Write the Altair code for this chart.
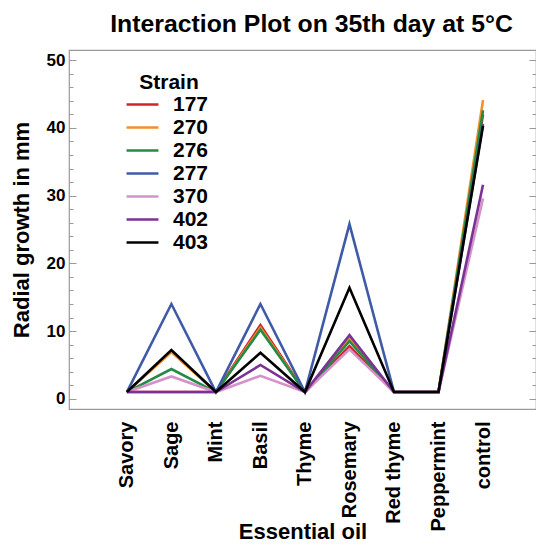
import json
import altair as alt
import pandas as pd

oils = ["Savory", "Sage", "Mint", "Basil", "Thyme", "Rosemary", "Red thyme", "Peppermint", "control"]
strains = ["177", "270", "276", "277", "370", "402", "403"]
colors = ["#d2232a", "#f28e2b", "#238b45", "#3f5aa6", "#d592c8", "#7b3294", "#000000"]

g177 = [1, 1, 1, 10.9, 1, 7.8, 1, 1, 42.0]
g270 = [1, 6.9, 1, 10.5, 1, 8.9, 1, 1, 44.1]
g276 = [1, 4.4, 1, 10.2, 1, 8.5, 1, 1, 42.6]
g277 = [1, 14.0, 1, 14.0, 1, 25.8, 1, 1, 40.6]
g370 = [1, 3.3, 1, 3.4, 1, 7.3, 1, 1, 29.6]
g402 = [1, 1, 1, 5.0, 1, 9.4, 1, 1, 31.6]
g403 = [1, 7.2, 1, 6.8, 1, 16.4, 1, 1, 40.3]

series = [g177, g270, g276, g277, g370, g402, g403]
rows = []
for s, vals in zip(strains, series):
    for i, (o, v) in enumerate(zip(oils, vals)):
        rows.append({"oil": o, "strain": s, "growth": v, "idx": i})
df = pd.DataFrame(rows)

FONT = "Liberation Sans"
TICK = "#999999"

yscale = alt.Scale(domain=[-1.5, 51.5], nice=False, zero=False)
xscale = alt.Scale(domain=[-1.3, 9.19], nice=False, zero=False)
label_expr = json.dumps(oils) + "[datum.value]"

base = alt.Chart(df)

lines = base.mark_line(strokeWidth=2.6).encode(
    x=alt.X("idx:Q", scale=xscale,
            axis=alt.Axis(title="Essential oil", values=list(range(len(oils))),
                          labelExpr=label_expr, labelAngle=270, labelAlign="right",
                          labelBaseline="middle", ticks=False, domain=False, grid=False,
                          labelPadding=12, labelFontSize=20, labelFont=FONT,
                          labelFontWeight="bold", labelColor="black", labelOverlap=False,
                          titleFontSize=22, titleFont=FONT, titleFontWeight="bold",
                          titleColor="black", titleY=129, titleBaseline="alphabetic",
                          orient="bottom")),
    y=alt.Y("growth:Q", scale=yscale,
            axis=alt.Axis(title="Radial growth in mm", values=[0, 10, 20, 30, 40, 50],
                          ticks=False, domain=False, grid=False, labelPadding=4,
                          labelFontSize=17, labelFont=FONT, labelFontWeight="bold",
                          labelColor="black", titleFontSize=22, titleFont=FONT,
                          titleFontWeight="bold", titleColor="black", titleAngle=270,
                          titleX=-41, titleY=179.5, titleBaseline="alphabetic",
                          titleAlign="center", orient="left")),
    color=alt.Color("strain:N", scale=alt.Scale(domain=strains, range=colors),
                    legend=alt.Legend(title="Strain", orient="none", legendX=61, legendY=22,
                                      titleAnchor="middle", titleFontSize=21, titleFont=FONT,
                                      titleFontWeight="bold", titleColor="black",
                                      labelFontSize=21, labelFont=FONT, labelFontWeight="bold",
                                      labelColor="black", symbolType="M-1.45,0H1.45",
                                      symbolSize=484, symbolStrokeWidth=2.6,
                                      symbolFillColor="transparent",
                                      labelOffset=18, rowPadding=0,
                                      titlePadding=-1, padding=0)),
)

major = [0, 10, 20, 30, 40, 50]
minor = [2, 4, 6, 8, 12, 14, 16, 18, 22, 24, 26, 28, 32, 34, 36, 38, 42, 44, 46, 48]


def tick_layer(orient, values, size):
    return base.mark_point(opacity=0).encode(
        y=alt.Y("growth:Q", scale=yscale,
                axis=alt.Axis(orient=orient, values=values, tickSize=size, offset=-size,
                              labels=False, domain=False, grid=False, title=None,
                              tickColor=TICK, tickWidth=1)),
    )


chart = alt.layer(
    lines,
    tick_layer("left", major, 7),
    tick_layer("left", minor, 4),
    tick_layer("right", major, 7),
    tick_layer("right", minor, 4),
).resolve_axis(y="independent").properties(
    width=467, height=359,
    autosize=alt.AutoSizeParams(type="none"),
    padding={"left": 61, "top": 42, "right": 0, "bottom": 133},
    title=alt.TitleParams("Interaction Plot on 35th day at 5°C", fontSize=24.8, font=FONT,
                          fontWeight="bold", color="black", anchor="middle", frame="group",
                          offset=-7, baseline="alphabetic", dx=9),
).configure_view(stroke="#9a9a9a", strokeWidth=1.2)

chart.save("out.html", embed_options={"renderer": "svg", "actions": False})
